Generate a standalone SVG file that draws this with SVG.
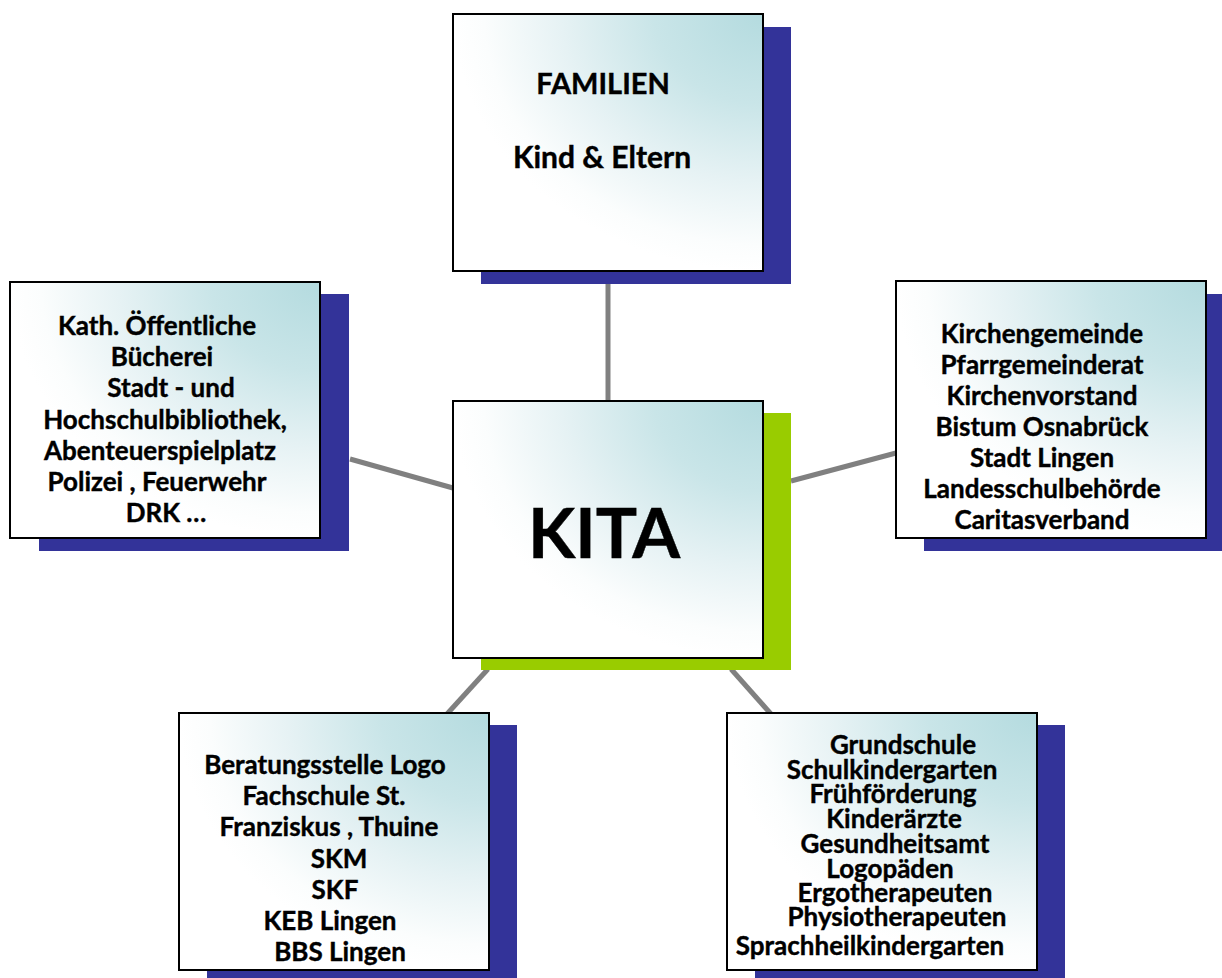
<svg xmlns="http://www.w3.org/2000/svg" width="1222" height="978" viewBox="0 0 1222 978">
<defs>
<radialGradient id="g" cx="1" cy="0" r="1" fx="1" fy="0">
<stop offset="0" stop-color="#b4dbdf"/>
<stop offset="0.35" stop-color="#c9e5e8"/>
<stop offset="0.65" stop-color="#e6f2f4"/>
<stop offset="0.9" stop-color="#fbfdfd"/>
<stop offset="1" stop-color="#ffffff"/>
</radialGradient>
<style>
.box{fill:url(#g);stroke:#000;stroke-width:2}
.sh{fill:#333399}
.shg{fill:#99cc00}
.con line{stroke:#808080;stroke-width:5}
text{font-family:Lato,"Open Sans","Liberation Sans",sans-serif;font-weight:bold;fill:#000;stroke:#000;stroke-width:0.4;text-anchor:middle}
.t{font-size:26px}
</style>
</defs>
<rect width="1222" height="978" fill="#fff"/>
<g id="connectors" class="con">
<line x1="608" y1="284" x2="608" y2="401"/>
<line x1="350" y1="459" x2="453" y2="488"/>
<line x1="791" y1="481" x2="896" y2="453"/>
<line x1="488" y1="669" x2="447" y2="714"/>
<line x1="731" y1="669" x2="771" y2="714"/>
</g>
<g id="familien">
<rect class="sh" x="481" y="27" width="310" height="257"/>
<rect class="box" x="453" y="14" width="310" height="257"/>
<text x="603" y="94" style="font-size:29px">FAMILIEN</text>
<text x="602" y="168" style="font-size:30px">Kind &amp; Eltern</text>
</g>
<g id="kita">
<rect class="shg" x="481" y="413" width="310" height="257"/>
<rect class="box" x="453" y="401" width="310" height="257"/>
<text x="604" y="558" style="font-size:69px">KITA</text>
</g>
<g id="links" class="t">
<rect class="sh" x="39" y="294" width="310" height="257"/>
<rect class="box" x="10" y="282" width="310" height="256"/>
<text x="157" y="335">Kath. Öffentliche</text>
<text x="162" y="366">Bücherei</text>
<text x="171" y="397">Stadt - und</text>
<text x="165" y="429">Hochschulbibliothek,</text>
<text x="160" y="460">Abenteuerspielplatz</text>
<text x="157" y="491">Polizei , Feuerwehr</text>
<text x="166" y="522">DRK  …</text>
</g>
<g id="rechts" class="t">
<rect class="sh" x="924" y="294" width="310" height="257"/>
<rect class="box" x="896" y="281" width="310" height="257"/>
<text x="1042" y="343">Kirchengemeinde</text>
<text x="1042" y="374">Pfarrgemeinderat</text>
<text x="1042" y="405">Kirchenvorstand</text>
<text x="1042" y="436">Bistum Osnabrück</text>
<text x="1042" y="467">Stadt Lingen</text>
<text x="1042" y="498">Landesschulbehörde</text>
<text x="1042" y="529">Caritasverband</text>
</g>
<g id="unten-links" class="t">
<rect class="sh" x="207" y="725" width="310" height="257"/>
<rect class="box" x="179" y="713" width="310" height="257"/>
<text x="325" y="774">Beratungsstelle Logo</text>
<text x="324" y="805">Fachschule St.</text>
<text x="329" y="836">Franziskus  , Thuine</text>
<text x="339" y="868">SKM</text>
<text x="335" y="899">SKF</text>
<text x="330" y="930">KEB Lingen</text>
<text x="340" y="961">BBS Lingen</text>
</g>
<g id="unten-rechts" class="t">
<rect class="sh" x="755" y="725" width="310" height="257"/>
<rect class="box" x="727" y="713" width="310" height="257"/>
<text x="903" y="754">Grundschule</text>
<text x="892" y="779">Schulkindergarten</text>
<text x="893" y="803">Frühförderung</text>
<text x="894" y="828">Kinderärzte</text>
<text x="895" y="853">Gesundheitsamt</text>
<text x="890" y="878">Logopäden</text>
<text x="895" y="902">Ergotherapeuten</text>
<text x="897" y="926">Physiotherapeuten</text>
<text x="870" y="955">Sprachheilkindergarten</text>
</g>
</svg>
